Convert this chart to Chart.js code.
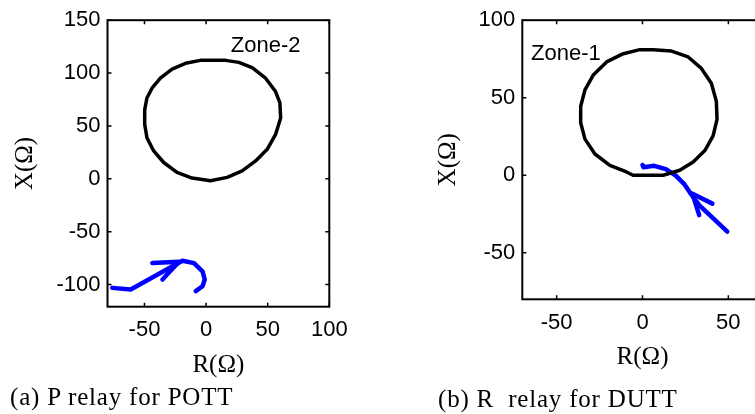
<!DOCTYPE html>
<html>
<head>
<meta charset="utf-8">
<script src="https://cdn.jsdelivr.net/npm/chart.js@4.4.1/dist/chart.umd.min.js"></script>
<style>
  body { margin: 0; background: #fff; overflow: hidden; width: 755px; height: 414px; position: relative; }
  .box { position: absolute; top: 0; height: 414px; }
  .caption { position: absolute; font-family: 'Liberation Serif', 'Times New Roman', serif; font-size: 25px; line-height: 30px; color: #000; white-space: pre; letter-spacing: 0.8px; }
</style>
</head>
<body>
<div class="box" style="left:0;width:380px"><canvas id="chartP"></canvas></div>
<div class="box" style="left:380px;width:400px"><canvas id="chartR"></canvas></div>
<div class="caption" style="left:10px;top:382px">(a) P relay for POTT</div>
<div class="caption" style="left:438px;top:384px">(b) R  relay for DUTT</div>
<script>
// (a) P relay: zone-2 mho circle and impedance locus
const zone2R = [-4.6, -16.7, -27.6, -37.1, -43.9, -48.0, -49.8, -49.8, -48.0, -42.5, -34.4, -23.6, -11.4, 3.6, 17.1, 29.3, 40.2, 49.6, 56.4, 60.5, 59.9, 56.4, 48.3, 37.4, 26.6, 15.8, -4.6];
const zone2X = [112.0, 109.2, 103.8, 95.1, 85.7, 76.4, 65.4, 51.3, 38.8, 26.3, 15.4, 6.0, 0.7, -1.9, 1.3, 7.5, 16.9, 27.9, 41.9, 57.6, 71.7, 82.5, 95.1, 105.1, 110.1, 112.0, 112.0];
const locusP_R = [-76.1, -61.2, -19.2, -9.8, -2.9, -1.1, -2.9, -8.4];
const locusP_X = [-103.2, -104.7, -77.5, -79.8, -87.5, -95.3, -101.6, -106.3];
const arrowP_R = [-43.6, -22.0, -35.4];
const arrowP_X = [-79.7, -78.5, -95.3];
const ticksP_R = [-50, 0, 50, 100];
const ticksP_X = [-100, -50, 0, 50, 100, 150];

// (b) R relay: zone-1 mho circle and impedance locus
const zone1R = [-1.5, -11.2, -20.9, -28.7, -33.5, -36.0, -36.0, -33.5, -27.7, -19.0, -9.3, -5.5, 12.0, 21.7, 29.5, 36.3, 41.1, 43.4, 43.0, 40.1, 34.3, 26.6, 16.9, 6.2, -1.5];
const zone1X = [81.0, 78.4, 73.1, 64.6, 55.1, 44.5, 33.9, 23.3, 13.7, 6.4, 2.1, 0, 0, 3.2, 8.5, 15.9, 25.4, 36.0, 47.7, 59.3, 68.9, 76.3, 80.1, 81.0, 81.0];
const locusR_R = [0, 0.6, 6.8, 13.6, 19.4, 24.2, 28.1, 33.0, 49.4];
const locusR_X = [6.6, 5.2, 6.1, 4.0, -0.3, -5.5, -11.9, -19.3, -36.3];
const arrowR_R = [40.7, 29.1, 33.0];
const arrowR_X = [-18.3, -11.9, -25.7];
const ticksR_R = [-50, 0, 50];
const ticksR_X = [-50, 0, 50, 100];

const sansFont = "'Liberation Sans', Arial, sans-serif";
const serifFont = "'Liberation Serif', 'Times New Roman', serif";

function toPoints(rs, xs) {
  return rs.map((r, i) => ({ x: r, y: xs[i] }));
}

function lineSet(rs, xs, color, width) {
  return {
    data: toPoints(rs, xs),
    showLine: true,
    borderColor: color,
    borderWidth: width,
    pointRadius: 0,
    borderJoinStyle: "round",
    borderCapStyle: "round",
    tension: 0,
  };
}

// box round the plot area with small inward ticks, plus the zone text
const framePlugin = {
  id: "frame",
  afterDatasetsDraw(chart, args, opts) {
    const { ctx, chartArea: a, scales } = chart;
    ctx.save();
    ctx.strokeStyle = "#000";
    ctx.lineWidth = 2;
    ctx.strokeRect(a.left, a.top, a.right - a.left, a.bottom - a.top);
    ctx.lineWidth = 1.5;
    ctx.beginPath();
    scales.x.ticks.forEach((t) => {
      const px = scales.x.getPixelForValue(t.value);
      ctx.moveTo(px, a.bottom); ctx.lineTo(px, a.bottom - 4);
      ctx.moveTo(px, a.top); ctx.lineTo(px, a.top + 4);
    });
    scales.y.ticks.forEach((t) => {
      const py = scales.y.getPixelForValue(t.value);
      ctx.moveTo(a.left, py); ctx.lineTo(a.left + 4, py);
      ctx.moveTo(a.right, py); ctx.lineTo(a.right - 4, py);
    });
    ctx.stroke();
    if (opts.text) {
      ctx.fillStyle = "#000";
      ctx.font = "22px " + sansFont;
      ctx.textAlign = "left";
      ctx.textBaseline = "middle";
      ctx.fillText(opts.text, scales.x.getPixelForValue(opts.r), scales.y.getPixelForValue(opts.x));
    }
    ctx.restore();
  },
};

function makeChart(id, cfg) {
  return new Chart(document.getElementById(id), {
    type: "scatter",
    data: { datasets: cfg.datasets },
    plugins: [framePlugin],
    options: {
      responsive: true,
      maintainAspectRatio: false,
      animation: false,
      layout: { padding: cfg.padding },
      plugins: {
        legend: { display: false },
        tooltip: { enabled: false },
        frame: cfg.label,
      },
      scales: {
        x: {
          type: "linear",
          min: cfg.xRange[0],
          max: cfg.xRange[1],
          grid: { display: false, drawTicks: false },
          border: { display: false },
          afterBuildTicks: (s) => { s.ticks = cfg.xTicks.map((v) => ({ value: v })); },
          afterFit: (s) => { s.height = cfg.xHeight; },
          ticks: { color: "#000", padding: 10, font: { family: sansFont, size: 22 } },
          title: {
            display: true,
            text: "R(Ω)",
            color: "#000",
            font: { family: serifFont, size: 25 },
            padding: { top: 0, bottom: cfg.xTitlePad },
          },
        },
        y: {
          type: "linear",
          min: cfg.yRange[0],
          max: cfg.yRange[1],
          grid: { display: false, drawTicks: false },
          border: { display: false },
          afterBuildTicks: (s) => { s.ticks = cfg.yTicks.map((v) => ({ value: v })); },
          afterFit: (s) => { s.width = cfg.yWidth; },
          ticks: { color: "#000", padding: 7, font: { family: sansFont, size: 22 } },
          title: {
            display: true,
            text: "X(Ω)",
            color: "#000",
            font: { family: serifFont, size: 25 },
            padding: { top: cfg.yTitlePad, bottom: 0 },
          },
        },
      },
    },
  });
}

makeChart("chartP", {
  datasets: [
    lineSet(zone2R, zone2X, "#000000", 3.5),
    lineSet(locusP_R, locusP_X, "#0000ff", 4.5),
    lineSet(arrowP_R, arrowP_X, "#0000ff", 4.5),
  ],
  padding: { top: 17.7, right: 50.7, bottom: 0, left: 0 },
  xRange: [-80, 100],
  yRange: [-121, 150],
  xTicks: ticksP_R,
  yTicks: ticksP_X,
  xHeight: 107.3,
  yWidth: 107.5,
  xTitlePad: 34,
  yTitlePad: 10,
  label: { text: "Zone-2", r: 20.1, x: 125.4 },
});

makeChart("chartR", {
  datasets: [
    lineSet(zone1R, zone1X, "#000000", 3.5),
    lineSet(locusR_R, locusR_X, "#0000ff", 4.5),
    lineSet(arrowR_R, arrowR_X, "#0000ff", 4.5),
  ],
  padding: { top: 14.3, right: 17.3, bottom: 0, left: 0 },
  xRange: [-70, 70],
  yRange: [-80, 100],
  xTicks: ticksR_R,
  yTicks: ticksR_X,
  xHeight: 114.7,
  yWidth: 142.3,
  xTitlePad: 42,
  yTitlePad: 53,
  label: { text: "Zone-1", r: -64.9, x: 78.4 },
});
</script>
</body>
</html>
